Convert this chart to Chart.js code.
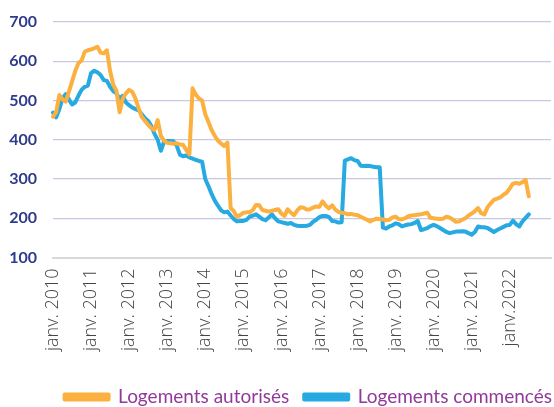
<!DOCTYPE html>
<html>
<head>
<meta charset="utf-8">
<script src="https://cdn.jsdelivr.net/npm/chart.js@4/dist/chart.umd.min.js"></script>
<style>
html,body{margin:0;padding:0;background:#fff;}
#wrap{width:554px;height:407px;}
</style>
</head>
<body>
<div id="wrap"><canvas id="c" width="554" height="407"></canvas></div>
<script>
// Year tick labels (shown at each January)
const yearLabels = ['janv. 2010','janv. 2011','janv. 2012','janv. 2013','janv. 2014','janv. 2015','janv. 2016','janv. 2017','janv. 2018','janv. 2019','janv. 2020','janv. 2021','janv.2022'];
const monthsOnAxis = 158; // monthly categories from Jan 2010 (axis runs a little past the last value)

// Logements autorisés, Jan 2010 - Jul 2022
const autorises = [
  459, 470, 514, 503, 497, 522, 548, 575, 595, 602, 624, 628,
  630, 633, 637, 622, 620, 628, 575, 540, 525, 470, 505, 518,
  527, 522, 505, 480, 458, 448, 438, 430, 425, 450, 410, 398,
  392, 391, 390, 391, 388, 387, 374, 363, 531, 515, 505, 500,
  465, 445, 425, 410, 398, 390, 384, 393, 226, 218, 204, 208,
  214, 215, 215, 221, 234, 233, 221, 219, 217, 219, 221, 223,
  212, 206, 223, 214, 208, 220, 228, 227, 222, 223, 227, 230,
  229, 243, 232, 225, 233, 222, 216, 214, 213, 210, 211, 209,
  208, 204, 200, 196, 192, 196, 199, 198, 197, 195, 196, 202,
  204, 198, 197, 200, 205, 207, 208, 209, 210, 212, 214, 201,
  200, 199, 198, 199, 204, 202, 197, 191, 192, 196, 200, 207,
  212, 218, 226, 213, 210, 228, 238, 247, 250, 253, 260, 265,
  276, 288, 290, 288, 292, 298, 256
];

// Logements commencés, Jan 2010 - Jul 2022
const commences = [
  469, 457, 478, 505, 516, 503, 490, 495, 512, 527, 535, 538,
  570, 576, 572, 565, 552, 550, 535, 524, 518, 505, 512, 495,
  488, 482, 478, 475, 465, 455, 448, 435, 415, 400, 372, 395,
  397, 397, 396, 385, 362, 358, 360, 355, 352, 349, 346, 344,
  300, 282, 262, 245, 232, 220, 215, 217, 207, 198, 192, 193,
  193, 196, 204, 207, 210, 204, 198, 195, 202, 210, 200, 192,
  190, 188, 186, 188, 183, 181, 180, 180, 181, 183, 191, 196,
  203, 206, 206, 203, 193, 192, 189, 190, 347, 350, 353, 348,
  346, 334, 333, 334, 333, 331, 330, 330, 176, 174, 179, 182,
  187, 185, 179, 182, 184, 185, 188, 193, 170, 172, 175, 180,
  183, 180, 175, 170, 165, 162, 164, 166, 166, 167, 166, 162,
  158, 165, 179, 177, 177, 175, 170, 165, 170, 174, 178, 182,
  183, 194, 185, 179, 192, 201, 210
];

const seriesNames = ['Logements autorisés', 'Logements commencés'];
const yTicks = [100, 200, 300, 400, 500, 600, 700];

const categories = [];
for (let i = 0; i < monthsOnAxis; i++) {
  categories.push(i % 12 === 0 && yearLabels[i / 12] ? yearLabels[i / 12] : '');
}

// shift the legend block so that it sits flush with the right edge, as in the source
const legendShift = {
  id: 'legendShift',
  afterLayout(chart) {
    if (chart.legend) { chart.legend.left += 16; chart.legend.right += 16; }
  }
};

new Chart(document.getElementById('c'), {
  type: 'line',
  data: {
    labels: categories,
    datasets: [
      { label: seriesNames[0], data: autorises, borderColor: '#FBB040', backgroundColor: '#FBB040',
        borderWidth: 4, pointRadius: 0, tension: 0, borderJoinStyle: 'round', borderCapStyle: 'round' },
      { label: seriesNames[1], data: commences, borderColor: '#27A9E1', backgroundColor: '#27A9E1',
        borderWidth: 4, pointRadius: 0, tension: 0, borderJoinStyle: 'round', borderCapStyle: 'round' }
    ]
  },
  plugins: [legendShift],
  options: {
    responsive: false,
    animation: false,
    layout: { padding: { top: 22, left: 9, right: 3, bottom: -9.5 } },
    plugins: {
      tooltip: { enabled: false },
      legend: {
        position: 'bottom',
        align: 'end',
        labels: {
          boxWidth: 44, boxHeight: 5, padding: 15,
          color: '#93399A',
          font: { family: 'Lato', size: 19 }
        }
      }
    },
    scales: {
      x: {
        offset: false,
        grid: { display: false, drawTicks: false },
        border: { display: true, color: '#D9D9D9', width: 2 },
        ticks: {
          autoSkip: false, minRotation: 90, maxRotation: 90, padding: 11,
          color: '#454545',
          font: { family: 'Open Sans', size: 18, weight: 300 }
        },
        afterFit: (s) => { s.height = 115; s.paddingLeft = 0; s.paddingRight = 0; }
      },
      y: {
        min: 100, max: 700,
        afterBuildTicks: (s) => { s.ticks = yTicks.map(v => ({ value: v })); },
        grid: { drawTicks: false, lineWidth: 1.3, color: (ctx) => ctx.tick && ctx.tick.value === 100 ? '#D9D9D9' : '#C7C9E0' },
        border: { display: false },
        ticks: {
          padding: 16, color: '#2E3A8C',
          font: { family: 'Lato', size: 16, weight: 'bold' }
        },
        afterFit: (s) => { s.width = 44; s.paddingTop = 0; s.paddingBottom = 0; }
      }
    }
  }
});
</script>
</body>
</html>
